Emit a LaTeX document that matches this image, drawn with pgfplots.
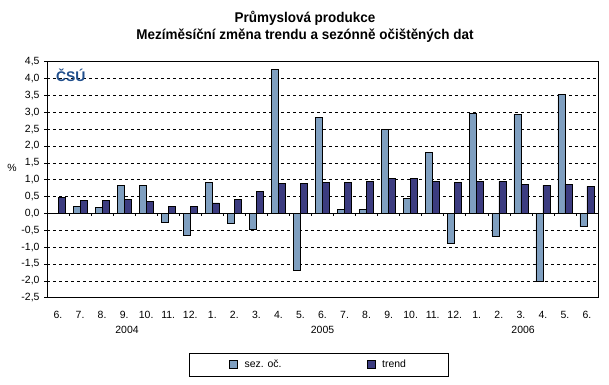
\documentclass[border=0pt]{standalone}
\usepackage{pgfplots}
\pgfplotsset{compat=1.18}
\usepackage{fontspec}
\setmainfont{Liberation Sans}
\definecolor{sezc}{HTML}{7F9FC0}
\definecolor{trendc}{HTML}{3C3C80}
\definecolor{logoc}{HTML}{1F4E8C}
\begin{document}
\begin{tikzpicture}[x=1bp,y=1bp]
\useasboundingbox (0,0) rectangle (609,384);
\node at (305,366) {\fontsize{13.5}{15}\selectfont\bfseries\scalebox{1.0}[1.05]{Průmyslová produkce}};
\node at (305,348) {\fontsize{13.5}{15}\selectfont\bfseries\scalebox{1.0}[1.05]{Mezíměsíční změna trendu a sezónně očištěných dat}};
\begin{axis}[
  at={(47bp,86.3bp)}, anchor=south west,
  scale only axis, width=551bp, height=236bp,
  ybar=0pt, bar width=7bp,
  xmin=-0.5, xmax=24.5,
  ymin=-2.5, ymax=4.5,
  ytick={-2.5,-2,...,4.5},
  xtick={0,...,24},
  xticklabels={6.,7.,8.,9.,10.,11.,12.,1.,2.,3.,4.,5.,6.,7.,8.,9.,10.,11.,12.,1.,2.,3.,4.,5.,6.},
  x tick style={draw=none},
  y tick style={black, line width=0.6pt},
  major tick length=3bp,
  tick align=outside,
  ytick pos=left,
  xtick pos=bottom,
  ticklabel style={font=\fontsize{10.5}{12}\selectfont},
  xticklabel style={yshift=-7bp},
  yticklabel style={xshift=-1bp},
  /pgf/number format/assume math mode=true,
  yticklabel={\pgfmathprintnumber[fixed,fixed zerofill,precision=1,use comma]{\tick}},
  ymajorgrids,
  grid style={black, dash pattern=on 3bp off 3bp, line width=0.6pt},
  axis line style={black, line width=0.8pt},
  legend style={at={(0.4927,-0.283)}, anchor=center, draw=black, line width=0.8pt,
    inner xsep=40bp, inner ysep=5bp, column sep=0bp,
    font=\fontsize{10.5}{12}\selectfont,
    /tikz/every odd column/.append style={column sep=5bp}},
  legend columns=2,
  legend image code/.code={\draw[#1, draw=black, line width=0.6pt] (0bp,-4bp) rectangle (8bp,4bp);},
  clip=false,
]
\addplot[fill=sezc, draw=black, line width=0.6pt] coordinates {
(1,0.22) (2,0.19) (3,0.83) (4,0.83) (5,-0.27) (6,-0.65) (7,0.92) (8,-0.30) (9,-0.48) (10,4.28) (11,-1.69)
(12,2.85) (13,0.12) (14,0.12) (15,2.50) (16,0.45) (17,1.81) (18,-0.89) (19,2.97) (20,-0.68) (21,2.94) (22,-2.01) (23,3.54) (24,-0.39)};
\addplot[fill=trendc, draw=black, line width=0.6pt] coordinates {
(0,0.48) (1,0.39) (2,0.39) (3,0.42) (4,0.36) (5,0.22) (6,0.22) (7,0.31) (8,0.42) (9,0.65) (10,0.89) (11,0.89)
(12,0.92) (13,0.92) (14,0.95) (15,1.04) (16,1.04) (17,0.95) (18,0.92) (19,0.95) (20,0.95) (21,0.86) (22,0.83) (23,0.86) (24,0.80)};
\legend{\makebox[120bp][l]{sez. oč.},trend}
\draw[black, line width=0.8pt] (axis cs:-0.5,0) -- (axis cs:24.5,0);
\pgfplotsinvokeforeach{0.5,1.5,2.5,3.5,4.5,5.5,6.5,7.5,8.5,9.5,10.5,11.5,12.5,13.5,14.5,15.5,16.5,17.5,18.5,19.5,20.5,21.5,22.5,23.5}{\draw[black, line width=0.6pt] (axis cs:#1,0) -- ([yshift=-3bp]axis cs:#1,0);}
\node[font=\fontsize{10.5}{12}\selectfont] at (axis cs:3.13,-2.5) [yshift=-32bp] {2004};
\node[font=\fontsize{10.5}{12}\selectfont] at (axis cs:12.0,-2.5) [yshift=-32bp] {2005};
\node[font=\fontsize{10.5}{12}\selectfont] at (axis cs:21.1,-2.5) [yshift=-32bp] {2006};
\node[font=\fontsize{10.5}{12}\selectfont] at (axis description cs:-0.0635,0.55) {\%};
\node[anchor=north west, inner sep=0pt, text=logoc, font=\fontsize{14}{15}\selectfont\bfseries] at (axis description cs:0.016,0.968) {ČSÚ};
\end{axis}
\end{tikzpicture}
\end{document}
